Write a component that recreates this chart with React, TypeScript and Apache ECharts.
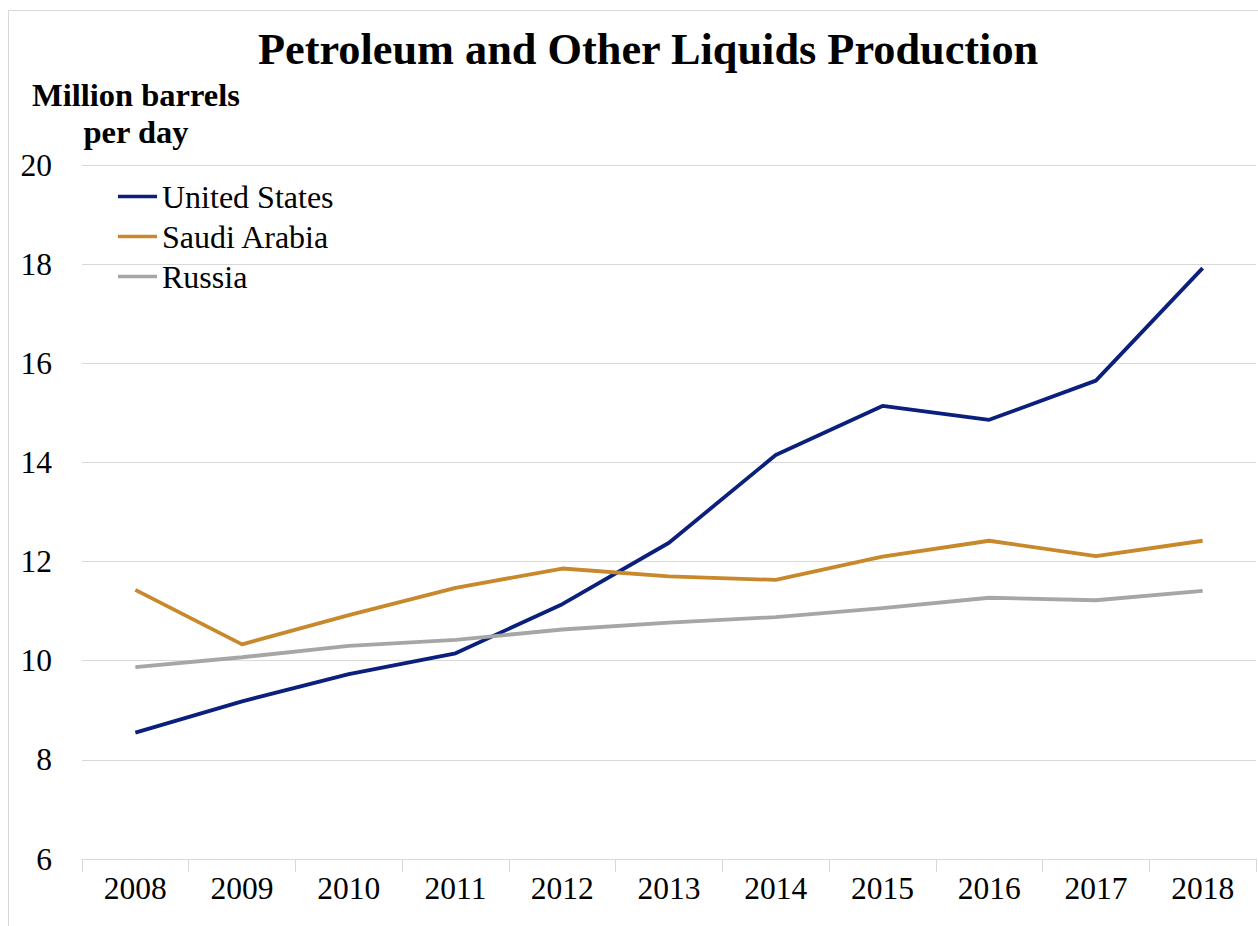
import React, { useEffect, useRef } from "react";
import * as echarts from "echarts";

const years = ["2008", "2009", "2010", "2011", "2012", "2013", "2014", "2015", "2016", "2017", "2018"];
const unitedStates = [8.55, 9.18, 9.73, 10.15, 11.14, 12.38, 14.15, 15.14, 14.86, 15.65, 17.92];
const saudiArabia = [11.43, 10.33, 10.92, 11.47, 11.86, 11.7, 11.63, 12.1, 12.42, 12.11, 12.42];
const russia = [9.87, 10.07, 10.3, 10.42, 10.63, 10.77, 10.88, 11.06, 11.27, 11.22, 11.41];

const FONT = '"Liberation Serif", "Times New Roman", serif';

export default function App() {
  const ref = useRef<HTMLDivElement>(null);
  useEffect(() => {
    if (!ref.current) return;
    const chart = echarts.init(ref.current, undefined, { renderer: "svg" });
    const mk = (name: string, data: number[], color: string) => ({
      name,
      type: "line",
      data,
      showSymbol: false,
      symbol: "none",
      lineStyle: { color, width: 3.8 },
      itemStyle: { color },
    });
    chart.setOption({
      animation: false,
      backgroundColor: "#fff",
      textStyle: { fontFamily: FONT },
      title: {
        text: "Petroleum and Other Liquids Production",
        left: 253,
        top: 22,
        textStyle: { fontFamily: FONT, fontWeight: "bold", fontSize: 44.3, color: "#000" },
      },
      graphic: [
        {
          type: "rect",
          shape: { x: 8.5, y: 10.5, width: 1300, height: 1000 },
          style: { fill: "none", stroke: "#d9d9d9", lineWidth: 1 },
          silent: true,
        },
        {
          type: "text",
          x: 136,
          y: 95,
          style: {
            text: "Million barrels",
            fontFamily: FONT,
            fontWeight: "bold",
            fontSize: 32.5,
            fill: "#000",
            align: "center",
            verticalAlign: "middle",
          },
        },
        {
          type: "text",
          x: 136,
          y: 132,
          style: {
            text: "per day",
            fontFamily: FONT,
            fontWeight: "bold",
            fontSize: 32.5,
            fill: "#000",
            align: "center",
            verticalAlign: "middle",
          },
        },
      ],
      legend: {
        orient: "vertical",
        left: 118,
        top: 179,
        padding: 0,
        icon: "rect",
        itemWidth: 39,
        itemHeight: 3.5,
        itemGap: 5,
        itemTextGap: 5,
        textStyle: { fontFamily: FONT, fontSize: 32, color: "#000", lineHeight: 35 },
        data: ["United States", "Saudi Arabia", "Russia"],
      },
      grid: { left: 82, right: 2, top: 165, bottom: 67 },
      xAxis: {
        type: "category",
        data: years,
        boundaryGap: true,
        axisLine: { show: true, lineStyle: { color: "#d9d9d9", width: 1 } },
        axisTick: { show: true, length: 13, lineStyle: { color: "#d9d9d9" } },
        axisLabel: { fontFamily: FONT, fontSize: 31.5, color: "#000", margin: 13 },
      },
      yAxis: {
        type: "value",
        min: 6,
        max: 20,
        interval: 2,
        axisLine: { show: false },
        axisTick: { show: false },
        splitLine: { lineStyle: { color: "#d9d9d9", width: 1 } },
        axisLabel: { fontFamily: FONT, fontSize: 31.5, color: "#000", margin: 30 },
      },
      series: [
        mk("United States", unitedStates, "#0b1f7c"),
        mk("Saudi Arabia", saudiArabia, "#c8882c"),
        mk("Russia", russia, "#a6a6a6"),
      ],
    });
    return () => chart.dispose();
  }, []);
  return (
    <div
      ref={ref}
      style={{ position: "fixed", left: 0, top: 0, width: 1258, height: 926 }}
    />
  );
}
